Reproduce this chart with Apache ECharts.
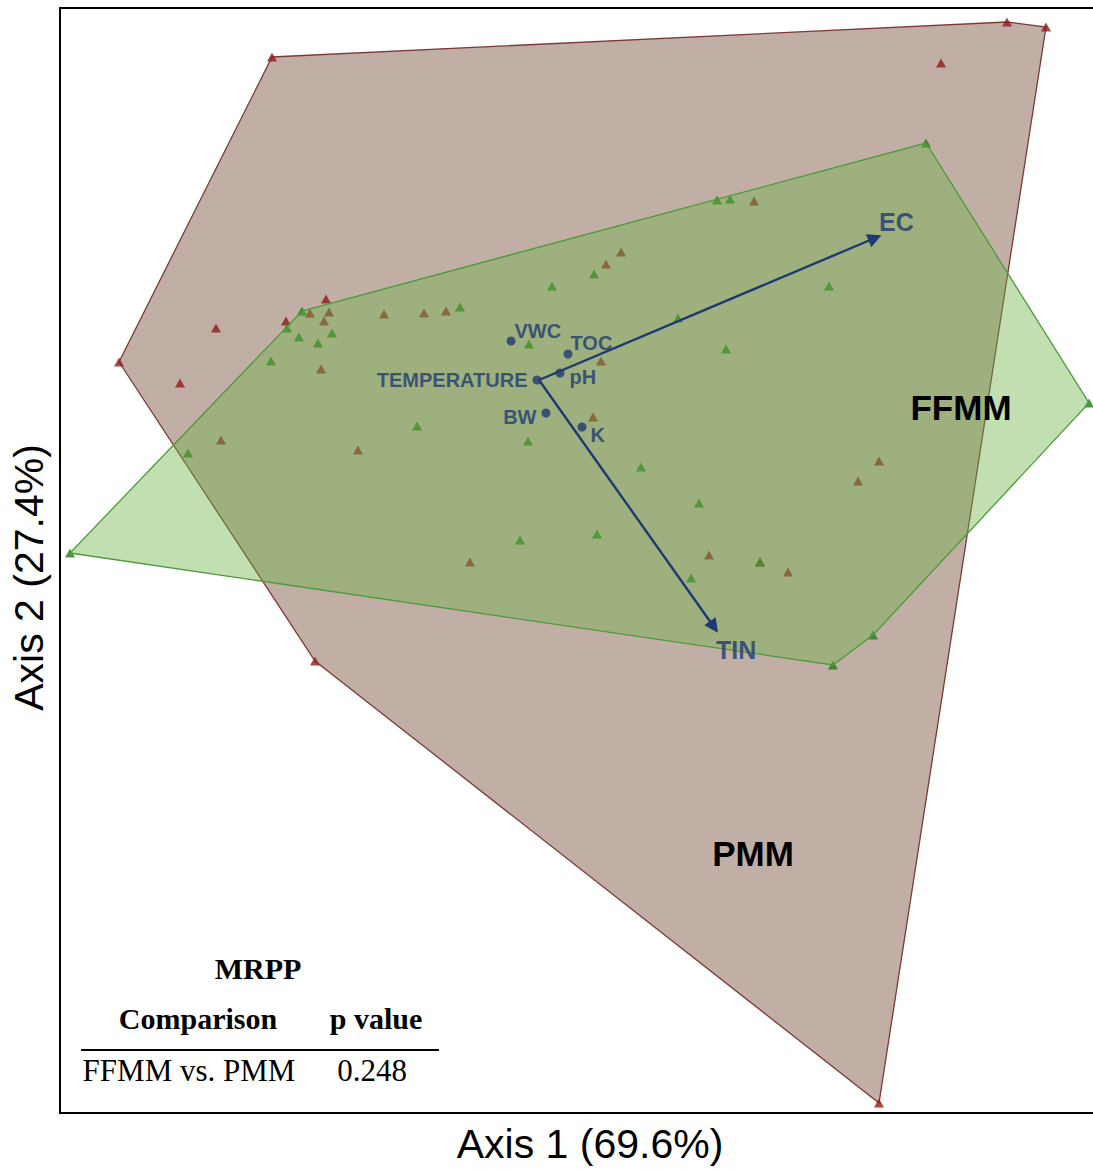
<!DOCTYPE html>
<html>
<head>
<meta charset="utf-8">
<script src="https://cdn.jsdelivr.net/npm/echarts@6/dist/echarts.min.js"></script>
<style>
  html, body { margin: 0; padding: 0; background: #fff; }
  #chart { width: 1093px; height: 1169px; }
</style>
</head>
<body>
<div id="chart"></div>
<script>
// NMS ordination scores of the sites (axis units), one list per management group
const pmmSites = [
  [2.12, 10.56], [9.47, 10.91], [9.86, 10.86], [8.19, 0.10], [2.55, 4.52], [0.59, 7.51],
  [8.81, 10.50], [1.56, 7.85], [1.20, 7.30], [2.66, 8.14], [2.26, 7.92],
  [2.50, 8.00], [2.69, 8.01], [2.64, 7.92], [2.61, 7.44], [1.61, 6.73], [2.98, 6.63],
  [3.24, 7.99], [3.64, 8.00], [3.86, 8.02], [6.94, 9.12], [5.61, 8.61], [5.46, 8.49],
  [5.41, 7.52], [5.33, 6.96], [4.10, 5.51], [6.49, 5.58], [7.28, 5.41], [8.19, 6.52],
  [7.98, 6.32], [7.00, 5.51]
];
const ffmmSites = [
  [2.42, 8.02], [8.66, 9.70], [10.29, 7.10], [8.13, 4.78], [7.73, 4.48], [0.10, 5.60],
  [2.27, 7.85], [2.39, 7.76], [2.72, 7.80], [2.58, 7.70], [2.11, 7.52], [1.28, 6.60],
  [4.00, 8.06], [4.92, 8.27], [5.34, 8.39], [4.69, 7.69], [6.57, 9.13], [6.70, 9.14],
  [7.69, 8.27], [6.66, 7.64], [3.57, 6.87], [4.68, 6.72], [4.60, 5.73], [5.37, 5.79],
  [5.81, 6.46], [6.39, 6.10], [6.31, 5.35], [7.00, 5.51], [6.18, 7.95]
];

// environmental variables (joint plot)
const jointNames = ['VWC', 'TOC', 'TEMPERATURE', 'pH', 'BW', 'K'];
const jointScores = [[4.51, 7.72], [5.08, 7.59], [4.77, 7.33], [5.00, 7.40], [4.86, 7.00], [5.22, 6.86]];
const vectorOrigin = [4.79, 7.33];
const vectorNames = ['EC', 'TIN'];
const vectorTips = [[8.15, 8.75], [6.54, 4.86]];

const groupNames = ['FFMM', 'PMM'];
const axisTitles = ['Axis 1 (69.6%)', 'Axis 2 (27.4%)'];

// MRPP summary table
const mrppTitle = 'MRPP';
const mrppHeader = ['Comparison', 'p value'];
const mrppRow = ['FFMM vs. PMM', '0.248'];

// convex hull (monotone chain) around a group of sites
function convexHull(pts) {
  const p = pts.slice().sort((a, b) => a[0] - b[0] || a[1] - b[1]);
  const cross = (o, a, b) => (a[0] - o[0]) * (b[1] - o[1]) - (a[1] - o[1]) * (b[0] - o[0]);
  const lower = [], upper = [];
  for (const q of p) {
    while (lower.length >= 2 && cross(lower[lower.length - 2], lower[lower.length - 1], q) <= 0) lower.pop();
    lower.push(q);
  }
  for (let i = p.length - 1; i >= 0; i--) {
    const q = p[i];
    while (upper.length >= 2 && cross(upper[upper.length - 2], upper[upper.length - 1], q) <= 0) upper.pop();
    upper.push(q);
  }
  upper.pop(); lower.pop();
  return lower.concat(upper);
}

const pmmHull = convexHull(pmmSites);
const ffmmHull = convexHull(ffmmSites);

const NAVY = '#1f3a73';
const SANS = '"Liberation Sans", Arial, Helvetica, sans-serif';
const SERIF = '"Liberation Serif", "Times New Roman", Times, serif';

function hullSeries(hull, fill, stroke, z) {
  return {
    type: 'custom',
    z: z,
    silent: true,
    data: hull,
    encode: { x: 0, y: 1 },
    clip: false,
    renderItem: function (params, api) {
      if (params.dataIndex !== 0) return null;
      return {
        type: 'polygon',
        shape: { points: hull.map(function (p) { return api.coord(p); }) },
        style: { fill: fill, stroke: stroke, lineWidth: 1.3 }
      };
    }
  };
}

// label placement for the joint-plot variables
const jointLabelPlace = {
  'VWC': { position: 'right', offset: [-6, -10] },
  'TOC': { position: 'right', offset: [-7, -11] },
  'TEMPERATURE': { position: 'left', offset: [0, 0] },
  'pH': { position: 'right', offset: [0, 4] },
  'BW': { position: 'left', offset: [0, 4] },
  'K': { position: 'right', offset: [-1, 8] }
};
const vectorLabelPlace = {
  'EC': { position: 'right', offset: [-1, -16] },
  'TIN': { position: 'right', offset: [-3, 23] }
};
const groupLabelAt = { 'FFMM': [9.01, 7.06], 'PMM': [6.93, 2.60] };

const chart = echarts.init(document.getElementById('chart'), null, { renderer: 'svg' });

chart.setOption({
  animation: false,
  backgroundColor: '#ffffff',
  grid: {
    left: 60, top: 8, right: -4, bottom: 56,
    outerBoundsMode: 'none',
    show: true, borderColor: '#000', borderWidth: 2, backgroundColor: 'transparent'
  },
  xAxis: {
    type: 'value', min: 0, max: 10.37,
    name: axisTitles[0], nameLocation: 'middle', nameGap: 10,
    nameTextStyle: { fontFamily: SANS, fontSize: 41, color: '#000', padding: [0, 0, 0, 23] },
    axisLine: { show: false }, axisTick: { show: false },
    axisLabel: { show: false }, splitLine: { show: false }
  },
  yAxis: {
    type: 'value', min: 0, max: 11.05,
    name: axisTitles[1], nameLocation: 'middle', nameGap: 11,
    nameTextStyle: { fontFamily: SANS, fontSize: 41, color: '#000', padding: [0, 34, 0, 0] },
    axisLine: { show: false }, axisTick: { show: false },
    axisLabel: { show: false }, splitLine: { show: false }
  },
  series: [
    hullSeries(pmmHull, '#c1afa6', '#7d3a36', 1),
    {
      name: 'PMM', type: 'scatter', z: 2, silent: true,
      symbol: 'triangle', symbolSize: [10, 9],
      itemStyle: { color: '#8e1c1c' },
      data: pmmSites
    },
    {
      name: 'FFMM', type: 'scatter', z: 3, silent: true,
      symbol: 'triangle', symbolSize: [10, 9],
      itemStyle: { color: '#237a17' },
      data: ffmmSites
    },
    hullSeries(ffmmHull, 'rgba(108,177,67,0.41)', '#4f9a3c', 4),
    {
      type: 'lines', coordinateSystem: 'cartesian2d', z: 5, silent: true,
      symbol: ['none', 'triangle'], symbolSize: 14,
      lineStyle: { color: NAVY, width: 2.4, opacity: 1 },
      data: vectorTips.map(function (t) { return { coords: [vectorOrigin, t] }; })
    },
    {
      type: 'scatter', z: 6, silent: true,
      symbol: 'circle', symbolSize: 9,
      itemStyle: { color: NAVY },
      label: { show: true, formatter: '{b}', color: NAVY, fontFamily: SANS, fontWeight: 'bold', fontSize: 20 },
      data: jointNames.map(function (n, i) {
        return { name: n, value: jointScores[i], label: jointLabelPlace[n] };
      })
    },
    {
      type: 'scatter', z: 6, silent: true,
      symbolSize: 0,
      itemStyle: { color: 'rgba(0,0,0,0)' },
      label: { show: true, formatter: '{b}', color: NAVY, fontFamily: SANS, fontWeight: 'bold', fontSize: 25, textBorderWidth: 0 },
      data: vectorNames.map(function (n, i) {
        return { name: n, value: vectorTips[i], label: vectorLabelPlace[n] };
      })
    },
    {
      type: 'scatter', z: 7, silent: true,
      symbolSize: 0,
      itemStyle: { color: 'rgba(0,0,0,0)' },
      label: { show: true, position: 'inside', formatter: '{b}', color: '#000', fontFamily: SANS, fontWeight: 'bold', fontSize: 35, textBorderWidth: 0, opacity: 1 },
      data: groupNames.map(function (n) { return { name: n, value: groupLabelAt[n] }; })
    }
  ],
  graphic: [
    { type: 'text', x: 258, y: 968, z: 100,
      style: { text: mrppTitle, font: 'bold 30px ' + SERIF, fill: '#000', textAlign: 'center', textVerticalAlign: 'middle' } },
    { type: 'text', x: 198, y: 1018, z: 100,
      style: { text: mrppHeader[0], font: 'bold 30px ' + SERIF, fill: '#000', textAlign: 'center', textVerticalAlign: 'middle' } },
    { type: 'text', x: 376, y: 1018, z: 100,
      style: { text: mrppHeader[1], font: 'bold 30px ' + SERIF, fill: '#000', textAlign: 'center', textVerticalAlign: 'middle' } },
    { type: 'line', z: 100, shape: { x1: 81, y1: 1050, x2: 439, y2: 1050 }, style: { stroke: '#000', lineWidth: 2 } },
    { type: 'text', x: 189, y: 1070, z: 100,
      style: { text: mrppRow[0], font: '31px ' + SERIF, fill: '#000', textAlign: 'center', textVerticalAlign: 'middle' } },
    { type: 'text', x: 372, y: 1070, z: 100,
      style: { text: mrppRow[1], font: '31px ' + SERIF, fill: '#000', textAlign: 'center', textVerticalAlign: 'middle' } }
  ]
});
</script>
</body>
</html>
